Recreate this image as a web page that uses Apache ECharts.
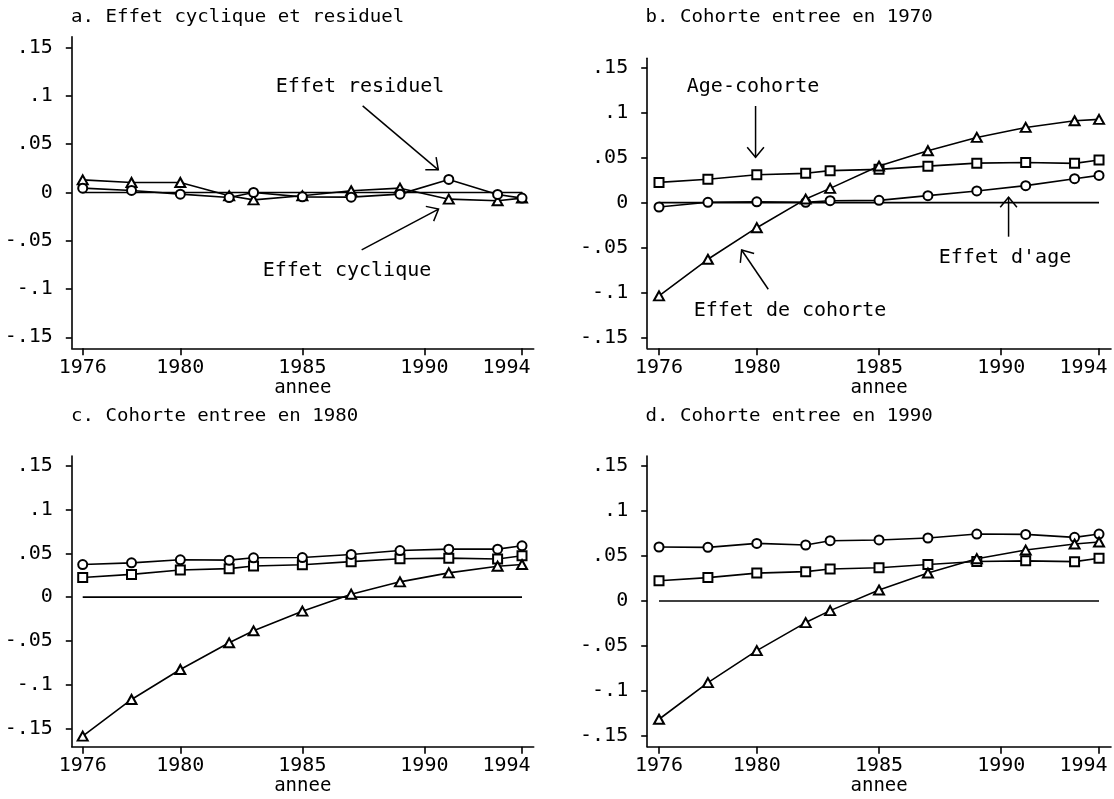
<!DOCTYPE html>
<html>
<head>
<meta charset="utf-8">
<title>Effets cycliques, d'age et de cohorte</title>
<script src="https://cdn.jsdelivr.net/npm/echarts@6/dist/echarts.min.js"></script>
<style>
  html, body { margin: 0; padding: 0; background: #fff; }
  #main { width: 1114px; height: 799px; }
</style>
</head>
<body>
<div id="main"></div>
<script>
// Survey years (x values shared by all four panels)
const years = [1976, 1978, 1980, 1982, 1983, 1985, 1987, 1989, 1991, 1993, 1994];

// Axis tick values
const xTicks = [1976, 1980, 1985, 1990, 1994];
const yTicks = [-0.15, -0.1, -0.05, 0, 0.05, 0.1, 0.15];

// a. Cyclical and residual effects
const effetCyclique = [0.0131, 0.0104, 0.0104, -0.0034, -0.0076, -0.0034, 0.0018, 0.0045, -0.0069, -0.0086, -0.0058];
const effetResiduel = [0.0045, 0.0021, -0.0017, -0.0052, 0.0000, -0.0045, -0.0048, -0.0017, 0.0135, -0.0020, -0.0058];

// Age-cohort interaction (same in panels b, c, d)
const ageCohorte = [0.0225, 0.0260, 0.0310, 0.0326, 0.0356, 0.0370, 0.0406, 0.0439, 0.0446, 0.0437, 0.0474];

// b. Cohort entering in 1970
const cohorte1970 = [-0.1036, -0.0629, -0.0278, 0.0040, 0.0159, 0.0407, 0.0577, 0.0725, 0.0836, 0.0910, 0.0925];
const age1970 = [-0.0048, 0.0004, 0.0010, 0.0004, 0.0022, 0.0026, 0.0078, 0.0130, 0.0189, 0.0266, 0.0303];

// c. Cohort entering in 1980
const cohorte1980 = [-0.1589, -0.1170, -0.0827, -0.0522, -0.0385, -0.0160, 0.0034, 0.0175, 0.0278, 0.0354, 0.0373];
const age1980 = [0.0373, 0.0392, 0.0427, 0.0423, 0.0450, 0.0453, 0.0488, 0.0533, 0.0549, 0.0549, 0.0587];

// d. Cohort entering in 1990
const cohorte1990 = [-0.1314, -0.0907, -0.0552, -0.0240, -0.0107, 0.0122, 0.0311, 0.0470, 0.0566, 0.0633, 0.0655];
const age1990 = [0.0600, 0.0596, 0.0640, 0.0622, 0.0670, 0.0678, 0.0700, 0.0744, 0.0740, 0.0707, 0.0744];

const FONT = '"DejaVu Sans Mono", "Liberation Mono", monospace';
const INK = '#000';

// Panel frames: grid boxes and axis extents
const panels = [
  { box: { left: 71.8, top: 36.7, width: 461.9, height: 311.6 }, x: [1975.553, 1994.479], y: [-0.1614, 0.1614] },
  { box: { left: 647.2, top: 58.3, width: 463.8, height: 290.0 }, x: [1975.517, 1994.49], y: [-0.1618, 0.1604] },
  { box: { left: 71.8, top: 456.0, width: 461.9, height: 290.7 }, x: [1975.553, 1994.479], y: [-0.1710, 0.1614] },
  { box: { left: 647.2, top: 456.0, width: 463.8, height: 290.7 }, x: [1975.517, 1994.49], y: [-0.1619, 0.1611] }
];

function fmtY(v) {
  if (Math.abs(v) < 1e-9) return '0';
  const s = String(Math.round(Math.abs(v) * 100) / 100).replace(/^0/, '');
  return (v < 0 ? '-' : '') + s;
}

const grid = panels.map(p => Object.assign({ containLabel: false, outerBoundsMode: 'none' }, p.box));

const xAxis = panels.map((p, i) => ({
  type: 'value', gridIndex: i, min: p.x[0], max: p.x[1],
  axisLine: { show: true, onZero: false, lineStyle: { color: INK, width: 1.6 } },
  axisTick: { show: true, length: 7, customValues: xTicks, lineStyle: { color: INK, width: 1.6 } },
  axisLabel: {
    customValues: xTicks, margin: 9, color: INK, fontFamily: FONT, fontSize: 20,
    formatter: v => (v === 1994 ? '{r|1994}' : String(v)),
    rich: { r: { padding: [0, 31, 0, 0], color: INK, fontFamily: FONT, fontSize: 20 } }
  },
  splitLine: { show: false },
  name: 'annee', nameLocation: 'middle', nameGap: 28,
  nameTextStyle: { color: INK, fontFamily: FONT, fontSize: 19 }
}));

const yAxis = panels.map((p, i) => ({
  type: 'value', gridIndex: i, min: p.y[0], max: p.y[1],
  axisLine: { show: true, onZero: false, lineStyle: { color: INK, width: 1.6 } },
  axisTick: { show: true, length: 6, customValues: yTicks, lineStyle: { color: INK, width: 1.6 } },
  axisLabel: { customValues: yTicks, margin: 19, color: INK, fontFamily: FONT, fontSize: 20, formatter: fmtY },
  splitLine: { show: false }
}));

function zeroLine(i) {
  return {
    type: 'line', xAxisIndex: i, yAxisIndex: i, z: 1, silent: true,
    data: [[years[0], 0], [years[years.length - 1], 0]],
    symbol: 'none', lineStyle: { color: INK, width: 1.6 }
  };
}

const SYM = {
  triangle: { symbol: 'emptyTriangle', symbolSize: [10, 9] },
  circle: { symbol: 'emptyCircle', symbolSize: 9 },
  square: { symbol: 'emptyRect', symbolSize: 9 }
};

function curve(i, name, values, shape) {
  return Object.assign({
    type: 'line', name: name, xAxisIndex: i, yAxisIndex: i, z: 2,
    data: years.map((yr, k) => [yr, values[k]]),
    lineStyle: { color: INK, width: 1.6 },
    itemStyle: { color: INK, borderColor: INK, borderWidth: 1.5 }
  }, SYM[shape]);
}

const series = [
  zeroLine(0),
  curve(0, 'Effet cyclique', effetCyclique, 'triangle'),
  curve(0, 'Effet residuel', effetResiduel, 'circle'),
  zeroLine(1),
  curve(1, 'Age-cohorte', ageCohorte, 'square'),
  curve(1, "Effet d'age", age1970, 'circle'),
  curve(1, 'Effet de cohorte', cohorte1970, 'triangle'),
  zeroLine(2),
  curve(2, 'Age-cohorte', ageCohorte, 'square'),
  curve(2, "Effet d'age", age1980, 'circle'),
  curve(2, 'Effet de cohorte', cohorte1980, 'triangle'),
  zeroLine(3),
  curve(3, 'Age-cohorte', ageCohorte, 'square'),
  curve(3, "Effet d'age", age1990, 'circle'),
  curve(3, 'Effet de cohorte', cohorte1990, 'triangle')
];

const chart = echarts.init(document.getElementById('main'), null, { renderer: 'canvas' });
chart.setOption({
  animation: false,
  backgroundColor: '#fff',
  grid: grid, xAxis: xAxis, yAxis: yAxis, series: series
});

// Panel titles
const titles = [
  { text: 'a. Effet cyclique et residuel', x: 71, y: 17.5 },
  { text: 'b. Cohorte entree en 1970', x: 645.5, y: 17.8 },
  { text: 'c. Cohorte entree en 1980', x: 71, y: 416 },
  { text: 'd. Cohorte entree en 1990', x: 645.5, y: 416 }
];

// Annotation labels (centre positions)
const notes = [
  { text: 'Effet residuel', x: 360, y: 86.8 },
  { text: 'Effet cyclique', x: 347, y: 270.3 },
  { text: 'Age-cohorte', x: 753, y: 87 },
  { text: "Effet d'age", x: 1005, y: 258 },
  { text: 'Effet de cohorte', x: 790, y: 310.6 }
];

// Annotation arrows in data units: [panel, tail, tip]
const arrows = [
  [0, [1987.47, 0.0898], [1990.57, 0.0235]],
  [0, [1987.43, -0.0594], [1990.58, -0.0172]],
  [1, [1979.95, 0.1074], [1979.95, 0.0504]],
  [1, [1990.30, -0.0378], [1990.30, 0.0060]],
  [1, [1980.47, -0.0962], [1979.38, -0.0526]]
];

const graphic = [];
titles.forEach(t => graphic.push({
  type: 'text', x: t.x, y: t.y, scaleX: 1.06, silent: true,
  style: { text: t.text, x: 0, y: 0, fill: INK, font: '18px ' + FONT, textAlign: 'left', textVerticalAlign: 'middle' }
}));
notes.forEach(t => graphic.push({
  type: 'text', x: t.x, y: t.y, silent: true,
  style: { text: t.text, x: 0, y: 0, fill: INK, font: '20px ' + FONT, textAlign: 'center', textVerticalAlign: 'middle' }
}));
arrows.forEach(([g, tail, tip]) => {
  const p0 = chart.convertToPixel({ gridIndex: g }, tail);
  const p1 = chart.convertToPixel({ gridIndex: g }, tip);
  const dx = p1[0] - p0[0], dy = p1[1] - p0[1];
  const len = Math.hypot(dx, dy);
  const ux = -dx / len, uy = -dy / len;
  const a = 40 * Math.PI / 180, L = 13;
  const arm = s => [p1[0] + L * (ux * Math.cos(s * a) - uy * Math.sin(s * a)),
                    p1[1] + L * (ux * Math.sin(s * a) + uy * Math.cos(s * a))];
  graphic.push({
    type: 'line', silent: true,
    shape: { x1: p0[0], y1: p0[1], x2: p1[0], y2: p1[1] },
    style: { stroke: INK, lineWidth: 1.5 }
  });
  graphic.push({
    type: 'polyline', silent: true,
    shape: { points: [arm(1), p1, arm(-1)] },
    style: { stroke: INK, lineWidth: 1.5, fill: null }
  });
});
chart.setOption({ graphic: graphic });
</script>
</body>
</html>
